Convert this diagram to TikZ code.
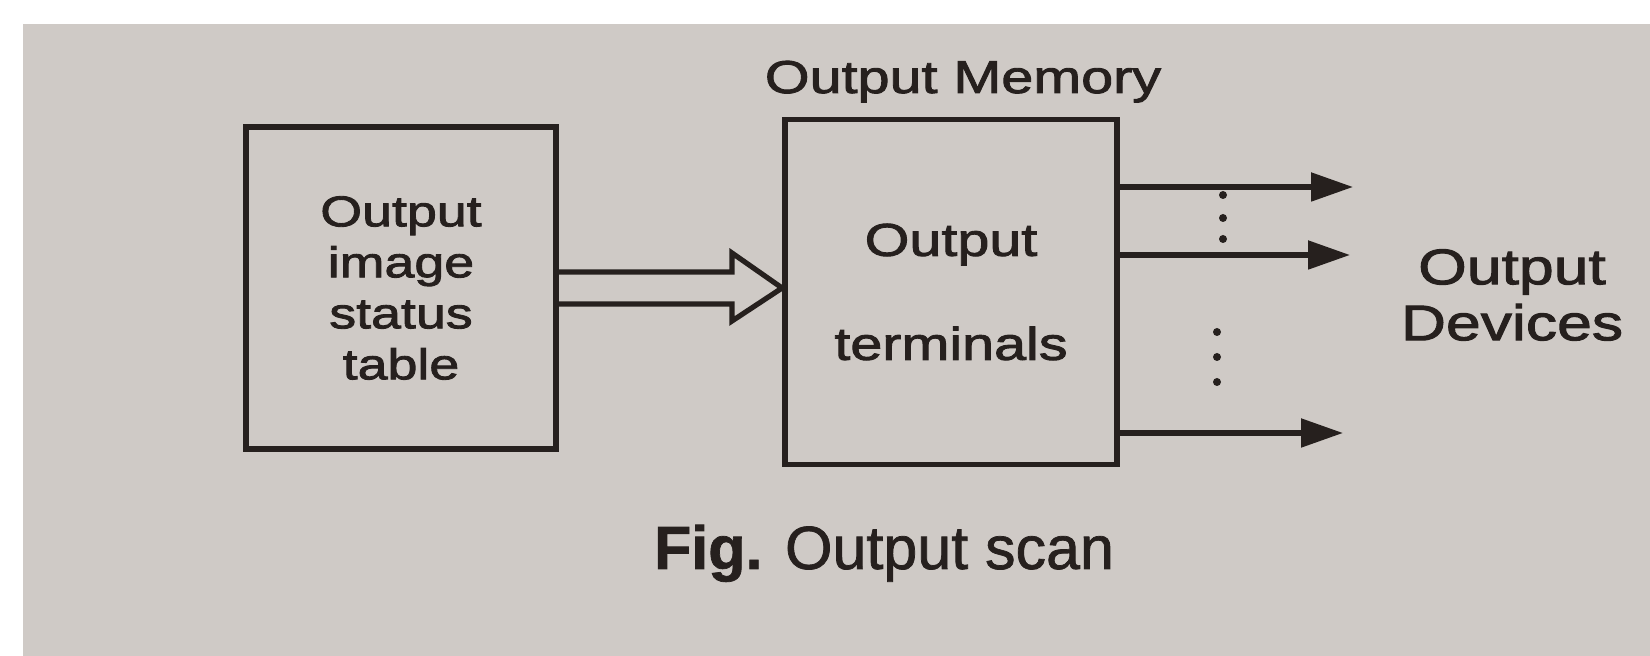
\documentclass[tikz,border=0pt]{standalone}
\usepackage{fontspec}
\setmainfont{Liberation Sans}[FakeBold=1.2]
\newfontfamily\widefont{Liberation Sans}[FakeStretch=1.25,FakeBold=2]
\usetikzlibrary{arrows.meta,calc}

\definecolor{paper}{RGB}{207,202,198}
\definecolor{ink}{RGB}{38,32,30}

\tikzset{
  block/.style={draw=ink, line width=2.9pt, rectangle, inner sep=0pt, align=center, text=ink},
  label/.style={text=ink, align=center, inner sep=0pt},
  outline/.style={draw=ink, line width=2.6pt, line join=miter},
  outarrow/.style={draw=ink, line width=2.6pt, -{Triangle[length=21pt,width=14pt]}}
}

\begin{document}
\begin{tikzpicture}[x=0.5pt, y=-0.5pt]
  % Background
  \fill[white] (0,0) rectangle (1650,656);
  \fill[paper] (23,24) rectangle (1650,656);
  \useasboundingbox (0,0) rectangle (1650,656);

  % Coordinates
  \coordinate (A) at (732,272);
  \coordinate (B) at (732,304);
  \coordinate (D1) at (1353,187);
  \coordinate (D2) at (1350,255);
  \coordinate (D3) at (1343,433);

  % Blocks
  \node[block, minimum width=155pt, minimum height=161pt,
        font=\widefont\fontsize{21.5}{25.5}\selectfont]
        (image) at (401,288) {Output\\image\\status\\table};
  \node[block, minimum width=166pt, minimum height=172.5pt,
        font=\widefont\fontsize{23}{52}\selectfont]
        (memory) at (951,292) {Output\\terminals};
  \node[label, anchor=base, font=\widefont\fontsize{23}{27}\selectfont]
        (memtitle) at (963,93) {Output Memory};
  \node[label, font=\widefont\fontsize{25}{28}\selectfont]
        (devices) at (1512,295) {Output\\Devices};

  % Drawing
  \draw[outline] (image.east |- A) -- (A) -- ++(0,-19) -- (memory.west |- 0,288)
        -- ($(B)+(0,17)$) -- (B) -- (image.east |- B);
  \draw[outarrow] (memory.east |- D1) -- (D1);
  \draw[outarrow] (memory.east |- D2) -- (D2);
  \draw[outarrow] (memory.east |- D3) -- (D3);
  \foreach \y in {195,218,239} \fill[ink] (1223,\y) circle (2pt);
  \foreach \y in {332,357,382} \fill[ink] (1217,\y) circle (2pt);

  % Caption
  \node[label, anchor=base, font=\fontsize{30.5}{34}\selectfont]
        (caption) at (884,569) {\textbf{Fig.} Output scan};
\end{tikzpicture}
\end{document}
